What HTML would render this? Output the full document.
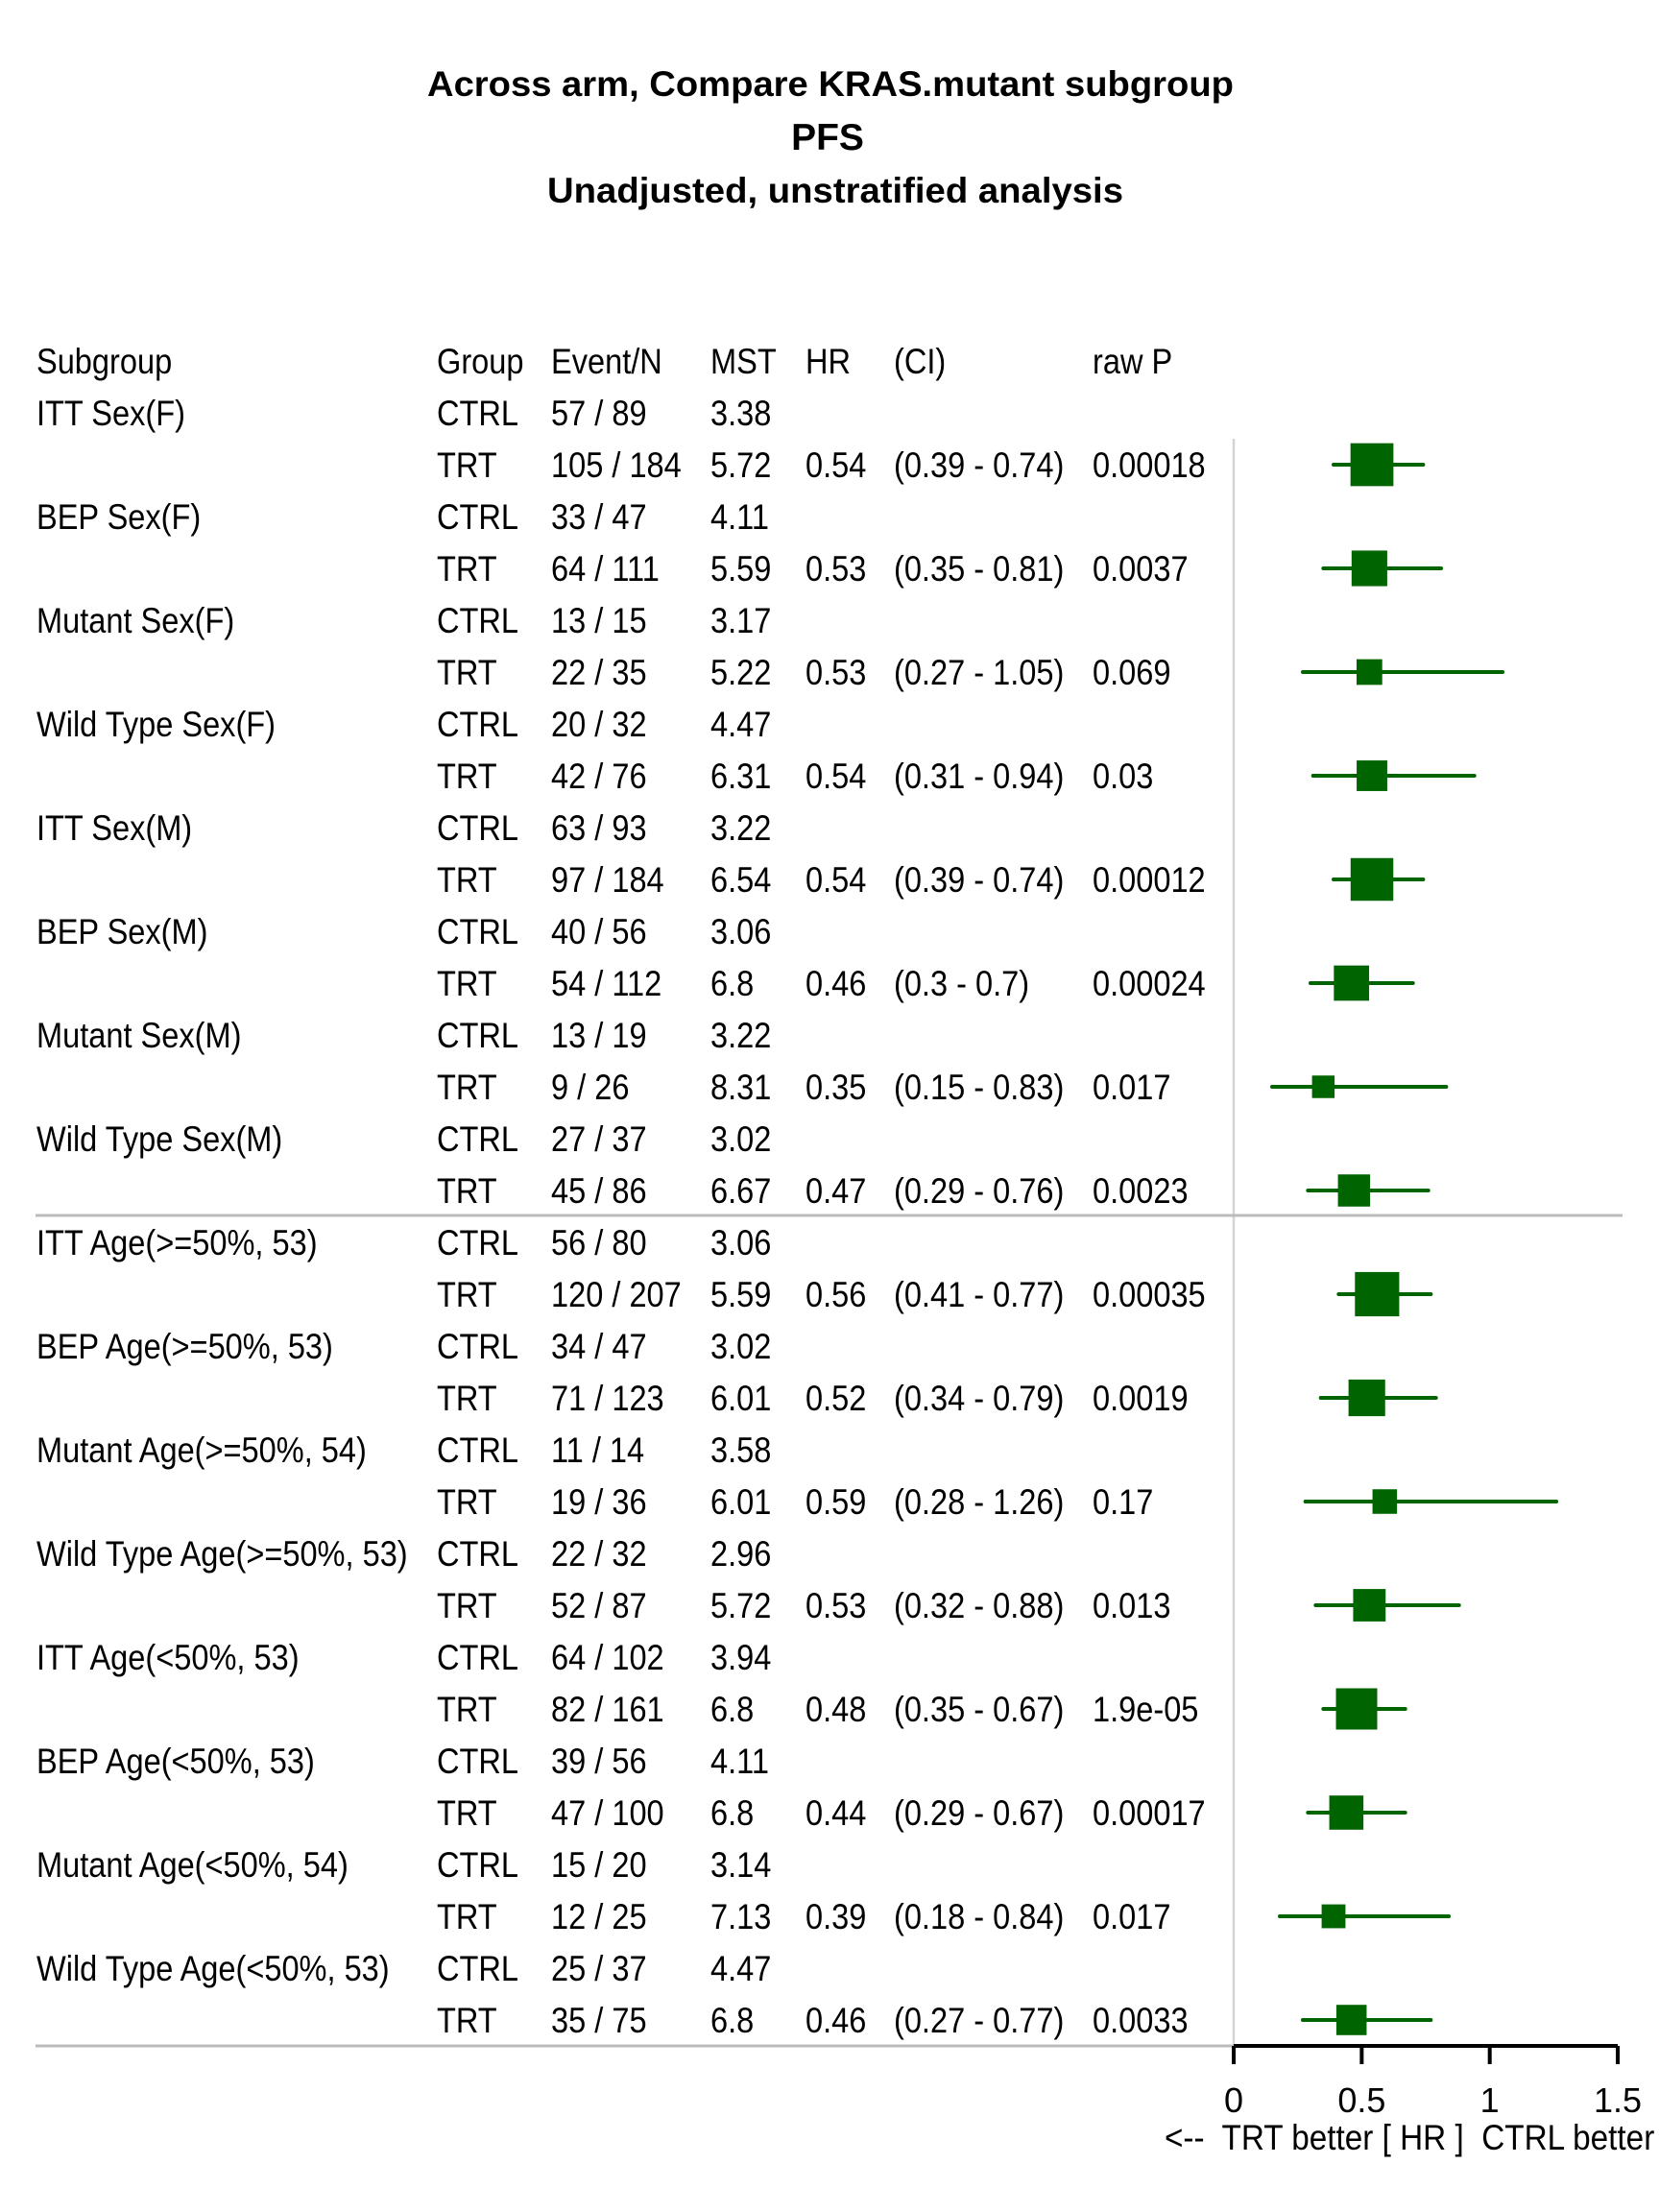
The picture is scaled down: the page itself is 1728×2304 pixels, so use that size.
<!DOCTYPE html>
<html><head><meta charset="utf-8"><style>
html,body{margin:0;padding:0;background:#fff;}
svg{display:block;font-family:"Liberation Sans",Arial,sans-serif;}
</style></head><body>
<svg id="chart" width="1728" height="2304" viewBox="0 0 1728 2304">
<g font-weight="bold" font-size="37" text-anchor="middle">
<text x="865" y="100" textLength="840" lengthAdjust="spacingAndGlyphs">Across arm, Compare KRAS.mutant subgroup</text>
<text x="862" y="156" font-size="39">PFS</text>
<text x="870" y="211" textLength="600" lengthAdjust="spacingAndGlyphs">Unadjusted, unstratified analysis</text>
</g>
<g id="table" font-size="37"></g>
<g id="plot"></g>
</svg>
<script>
const subgroups=["ITT Sex(F)","BEP Sex(F)","Mutant Sex(F)","Wild Type Sex(F)","ITT Sex(M)","BEP Sex(M)","Mutant Sex(M)","Wild Type Sex(M)","ITT Age(>=50%, 53)","BEP Age(>=50%, 53)","Mutant Age(>=50%, 54)","Wild Type Age(>=50%, 53)","ITT Age(<50%, 53)","BEP Age(<50%, 53)","Mutant Age(<50%, 54)","Wild Type Age(<50%, 53)"];
const ctrlEN=["57 / 89","33 / 47","13 / 15","20 / 32","63 / 93","40 / 56","13 / 19","27 / 37","56 / 80","34 / 47","11 / 14","22 / 32","64 / 102","39 / 56","15 / 20","25 / 37"];
const trtEN=["105 / 184","64 / 111","22 / 35","42 / 76","97 / 184","54 / 112","9 / 26","45 / 86","120 / 207","71 / 123","19 / 36","52 / 87","82 / 161","47 / 100","12 / 25","35 / 75"];
const ctrlMST=["3.38","4.11","3.17","4.47","3.22","3.06","3.22","3.02","3.06","3.02","3.58","2.96","3.94","4.11","3.14","4.47"];
const trtMST=["5.72","5.59","5.22","6.31","6.54","6.8","8.31","6.67","5.59","6.01","6.01","5.72","6.8","6.8","7.13","6.8"];
const hr=[0.54,0.53,0.53,0.54,0.54,0.46,0.35,0.47,0.56,0.52,0.59,0.53,0.48,0.44,0.39,0.46];
const ciLow=[0.39,0.35,0.27,0.31,0.39,0.3,0.15,0.29,0.41,0.34,0.28,0.32,0.35,0.29,0.18,0.27];
const ciHigh=[0.74,0.81,1.05,0.94,0.74,0.7,0.83,0.76,0.77,0.79,1.26,0.88,0.67,0.67,0.84,0.77];
const rawP=["0.00018","0.0037","0.069","0.03","0.00012","0.00024","0.017","0.0023","0.00035","0.0019","0.17","0.013","1.9e-05","0.00017","0.017","0.0033"];
const xTicks=[0,0.5,1,1.5];

const NS="http://www.w3.org/2000/svg";
const table=document.getElementById('table'), plot=document.getElementById('plot');
const xScale=v=>1285+v*266.7;
const rowY=i=>430+i*54;
const cols=[38,455,574,740,839,931,1138];
function txt(parent,x,y,s,sc){
  sc=sc||0.88;
  const t=document.createElementNS(NS,'text');
  t.setAttribute('x',x);t.setAttribute('y',y);
  t.setAttribute('transform',`translate(${x},0) scale(${sc},1) translate(${-x},0)`);
  t.textContent=s;parent.appendChild(t);return t;
}
function el(tag,attrs,parent){const e=document.createElementNS(NS,tag);for(const k in attrs)e.setAttribute(k,attrs[k]);parent.appendChild(e);return e;}
const hdr=["Subgroup","Group","Event/N","MST","HR","(CI)","raw P"];
hdr.forEach((h,j)=>{const t=txt(table,cols[j],389,h);

});
function fmt(v){return String(v);}
subgroups.forEach((s,i)=>{
  const y1=rowY(2*i)+13, y2=rowY(2*i+1)+13;
  const cells1=[s,"CTRL",ctrlEN[i],ctrlMST[i]];
  cells1.forEach((c,j)=>{const t=txt(table,cols[j],y1,c);
    
    });
  const cells2=[null,"TRT",trtEN[i],trtMST[i],hr[i].toFixed(2),"("+fmt(ciLow[i])+" - "+fmt(ciHigh[i])+")",rawP[i]];
  cells2.forEach((c,j)=>{if(c===null)return;const t=txt(table,cols[j],y2,c);
    
    });
});
let l=el('line',{x1:1285,y1:457,x2:1285,y2:2131,stroke:'#d4d4d4','stroke-width':2.5},plot);


l=el('line',{x1:37,y1:1266,x2:1690,y2:1266,stroke:'#bbbbbb','stroke-width':3},plot);


l=el('line',{x1:37,y1:2131,x2:1285,y2:2131,stroke:'#bbbbbb','stroke-width':3},plot);


subgroups.forEach((s,i)=>{
  const y=rowY(2*i+1);
  const ev=parseInt(ctrlEN[i])+parseInt(trtEN[i]);
  const sz=11.1+2.64*Math.sqrt(ev);
  const ln=el('line',{x1:xScale(ciLow[i]),y1:y,x2:xScale(ciHigh[i]),y2:y,stroke:'#006400','stroke-width':4,'stroke-linecap':'round'},plot);
  
  
  const r=el('rect',{x:xScale(hr[i])-sz/2,y:y-sz/2,width:sz,height:sz,fill:'#006400'},plot);
  
  
});
const ax=el('line',{x1:xScale(0),y1:2131,x2:xScale(1.5),y2:2131,stroke:'#000','stroke-width':4},plot);


xTicks.forEach(v=>{
  const tk=el('line',{x1:xScale(v),y1:2131,x2:xScale(v),y2:2150,stroke:'#000','stroke-width':4},plot);
  
  
  const t=el('text',{x:xScale(v),y:2200,'font-size':36,'text-anchor':'middle'},plot);
  t.textContent=String(v);
  
  
});
const xl=txt(plot,1213,2239,"<--  TRT better [ HR ]  CTRL better -->",0.9);
xl.setAttribute('font-size','37');
xl.setAttribute('xml:space','preserve');
xl.style.whiteSpace='pre';


</script>
</body></html>
